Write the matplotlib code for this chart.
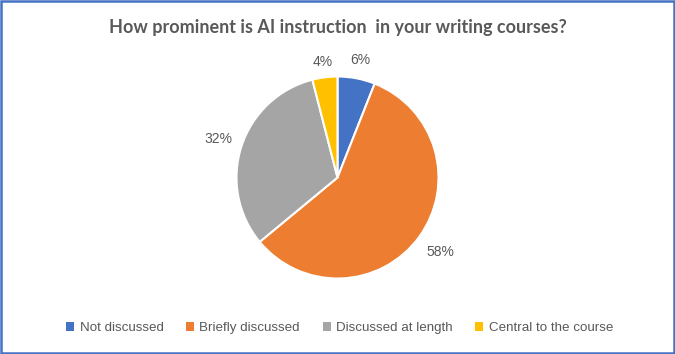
import numpy as np
import matplotlib.pyplot as plt
from matplotlib.patches import Rectangle, Patch

categories = ["Not discussed", "Briefly discussed", "Discussed at length", "Central to the course"]
shares = [6, 58, 32, 4]
colors = ["#4472C4", "#ED7D31", "#A5A5A5", "#FFC000"]

# label radius per wedge (Excel "best fit" placement)
label_radius = [1.18, 1.26, 1.24, 1.15]

plt.rcParams['font.family'] = ['Liberation Sans', 'DejaVu Sans']

fig = plt.figure(figsize=(6.75, 3.54), dpi=100)
fig.patch.set_facecolor("white")

# pie: centre (337, 177) px, radius 101 px
W, H = 675, 354
cx, cy, r = 337.5, 177.5, 101
ax = fig.add_axes([(cx - r) / W, (H - cy - r) / H, 2 * r / W, 2 * r / H])
wedges, _ = ax.pie(shares, colors=colors, startangle=90, counterclock=False,
                   wedgeprops=dict(edgecolor="white", linewidth=1.5))
ax.set_xlim(-1, 1)
ax.set_ylim(-1, 1)
ax.set_aspect("equal")

for w, val, rad in zip(wedges, shares, label_radius):
    mid = np.deg2rad((w.theta1 + w.theta2) / 2)
    ax.text(rad * np.cos(mid), rad * np.sin(mid), f"{val}%", ha="center", va="center",
            fontsize=10, color="#595959", clip_on=False)

fig.text(0.5, 1 - 27 / H, "How prominent is AI instruction  in your writing courses?",
         ha="center", va="center", fontsize=13, fontweight="bold", color="#595959",
         family=['Lato', 'DejaVu Sans'])

handles = [Patch(facecolor=c, edgecolor="none") for c in colors]
fig.legend(handles, categories, loc="center", bbox_to_anchor=(0.503, 1 - 328 / H), ncol=4,
           frameon=False, handlelength=0.6, handleheight=0.6, handletextpad=0.4,
           columnspacing=1.7, prop={'size': 9.6}, labelcolor="#595959")

fig.add_artist(Rectangle((0.002, 0.003), 0.996, 0.994, transform=fig.transFigure,
                         fill=False, edgecolor="#4472C4", linewidth=1.8))

fig.savefig("out.png", dpi=100)
